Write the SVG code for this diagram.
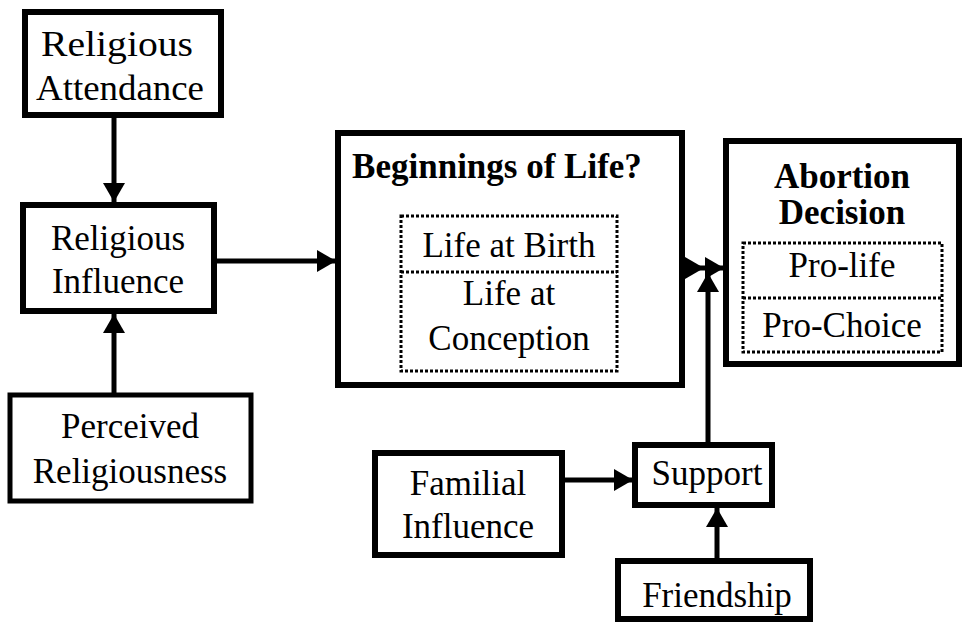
<svg xmlns="http://www.w3.org/2000/svg" width="967" height="629" viewBox="0 0 967 629">
<defs>
<marker id="ah" markerUnits="userSpaceOnUse" markerWidth="21" markerHeight="23" refX="19" refY="11" orient="auto" viewBox="0 0 21 23">
<path d="M0,0 L19,11 L0,22 Z" fill="#000"/>
</marker>
</defs>
<style>
.box{fill:#fff;stroke:#000;stroke-width:6}
.inner{fill:none;stroke:#000;stroke-width:3;stroke-dasharray:3 2}
text{font-family:"Liberation Serif","Times New Roman",serif;font-size:35px;fill:#000;text-anchor:middle}
.b{font-weight:bold}
.c{fill:none;stroke:#000;stroke-width:5;marker-end:url(#ah)}
</style>
<rect width="967" height="629" fill="#fff"/>
<g id="connectors">
<line class="c" x1="114" y1="118" x2="114" y2="202"/>
<line class="c" x1="217" y1="261" x2="336" y2="261"/>
<line class="c" x1="114" y1="394" x2="114" y2="314"/>
<polyline class="c" points="684,268 704,268 724,268" style="marker-mid:url(#ah)"/>
<line class="c" x1="708" y1="444" x2="708" y2="273"/>
<line class="c" x1="564" y1="480" x2="633" y2="480"/>
<line class="c" x1="717" y1="559" x2="717" y2="508"/>
</g>
<g id="religious-attendance">
<rect class="box" x="25" y="12" width="196" height="103"/>
<text x="117" y="56" textLength="152" lengthAdjust="spacingAndGlyphs">Religious</text>
<text x="120" y="100" textLength="168" lengthAdjust="spacingAndGlyphs">Attendance</text>
</g>
<g id="religious-influence">
<rect class="box" x="23" y="205" width="191" height="106"/>
<text x="118" y="250">Religious</text>
<text x="118" y="293">Influence</text>
</g>
<g id="perceived-religiousness">
<rect class="box" x="10" y="395" width="241" height="106" style="stroke-width:5"/>
<text x="130" y="438">Perceived</text>
<text x="130" y="483">Religiousness</text>
</g>
<g id="beginnings-of-life">
<rect class="box" x="338" y="133" width="344" height="252"/>
<text class="b" x="497" y="178">Beginnings of Life?</text>
<rect class="inner" x="401" y="216" width="216" height="155"/>
<line class="inner" x1="401" y1="272" x2="617" y2="272"/>
<text x="509" y="257">Life at Birth</text>
<text x="509" y="305">Life at</text>
<text x="509" y="350">Conception</text>
</g>
<g id="abortion-decision">
<rect class="box" x="726" y="141" width="233" height="223"/>
<text class="b" x="842" y="188">Abortion</text>
<text class="b" x="842" y="224">Decision</text>
<rect class="inner" x="743" y="243" width="199" height="109"/>
<line class="inner" x1="743" y1="298" x2="942" y2="298"/>
<text x="842" y="277">Pro-life</text>
<text x="842" y="337">Pro-Choice</text>
</g>
<g id="familial-influence">
<rect class="box" x="375" y="453" width="187" height="102"/>
<text x="468" y="495">Familial</text>
<text x="468" y="538">Influence</text>
</g>
<g id="support">
<rect class="box" x="635" y="445" width="137" height="60"/>
<text x="707" y="485">Support</text>
</g>
<g id="friendship">
<rect class="box" x="618" y="561" width="192" height="58"/>
<text x="717" y="607">Friendship</text>
</g>
</svg>
